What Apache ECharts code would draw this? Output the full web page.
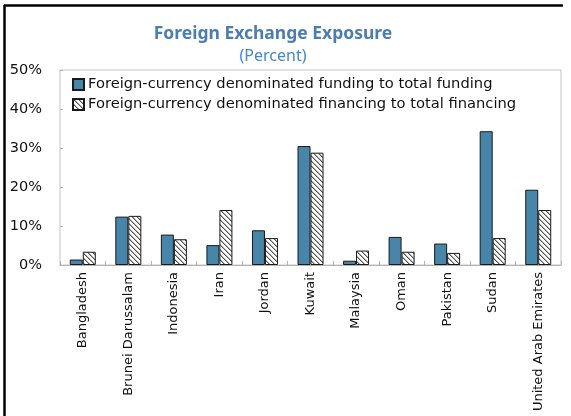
<!DOCTYPE html>
<html>
<head>
<meta charset="utf-8">
<script src="https://cdn.jsdelivr.net/npm/echarts@6/dist/echarts.min.js"></script>
<style>
html,body{margin:0;padding:0;background:#fff;}
#chart{width:571px;height:416px;}
</style>
</head>
<body>
<div id="chart"></div>
<script>
var categories = ['Bangladesh','Brunei Darussalam','Indonesia','Iran','Jordan','Kuwait','Malaysia','Oman','Pakistan','Sudan','United Arab Emirates'];
var fundingShare = [1.4, 12.4, 7.8, 5.1, 8.9, 30.5, 1.1, 7.2, 5.5, 34.3, 19.3];
var financingShare = [3.4, 12.6, 6.6, 14.1, 6.9, 28.8, 3.7, 3.4, 3.1, 6.9, 14.1];
var yTicks = [0, 10, 20, 30, 40, 50];

function hatch() {
  var c = document.createElement('canvas');
  c.width = 5; c.height = 5;
  var g = c.getContext('2d');
  g.fillStyle = '#fff';
  g.fillRect(0, 0, 5, 5);
  g.fillStyle = '#555';
  for (var i = 0; i < 5; i++) { g.fillRect(i, i, 1, 1); }
  g.fillStyle = '#b0b0b0';
  for (var j = 0; j < 4; j++) { g.fillRect(j + 1, j, 1, 1); }
  g.fillRect(0, 4, 1, 1);
  return c;
}

var chart = echarts.init(document.getElementById('chart'));
var font = 'DejaVu Sans';
chart.setOption({
  animation: false,
  title: {
    text: 'Foreign Exchange Exposure',
    subtext: '(Percent)',
    left: 268,
    textAlign: 'center',
    top: 20,
    itemGap: 5,
    textStyle: { fontFamily: 'Noto Sans', fontWeight: 'bold', fontSize: 17.5, color: '#4A7EB0' },
    subtextStyle: { fontFamily: 'Noto Sans', fontSize: 16, color: '#4A86C5' }
  },
  legend: {
    orient: 'vertical',
    left: 67,
    top: 72,
    itemWidth: 11,
    itemHeight: 11,
    itemGap: 5,
    icon: 'rect',
    textStyle: { fontFamily: font, fontSize: 14.7, color: '#111', padding: [0,0,0,-1] },
    data: [
      { name: 'Foreign-currency denominated funding to total funding' },
      { name: 'Foreign-currency denominated financing to total financing' }
    ]
  },
  grid: {
    left: 60, top: 70, right: 10, bottom: 151,
    show: true, borderColor: '#c4c4c4', borderWidth: 1, containLabel: false
  },
  xAxis: {
    type: 'category',
    data: categories,
    axisLine: { lineStyle: { color: '#b4b4b4', width: 1 } },
    axisTick: { show: true, inside: true, length: 4, lineStyle: { color: '#b4b4b4' } },
    axisLabel: { rotate: 90, fontFamily: font, fontSize: 13, color: '#111', margin: 7, interval: 0 }
  },
  yAxis: {
    type: 'value',
    min: yTicks[0],
    max: yTicks[yTicks.length - 1],
    interval: 10,
    axisLine: { show: false },
    axisTick: { show: true, inside: true, length: 3, lineStyle: { color: '#b4b4b4' } },
    splitLine: { show: false },
    axisLabel: { formatter: '{value}%', fontFamily: font, fontSize: 14.5, color: '#111', margin: 18 }
  },
  series: [
    {
      name: 'Foreign-currency denominated funding to total funding',
      type: 'bar',
      data: fundingShare,
      barWidth: 13,
      barGap: '0%',
      itemStyle: { color: '#4785A9', borderColor: '#1a1a1a', borderWidth: 1 }
    },
    {
      name: 'Foreign-currency denominated financing to total financing',
      type: 'bar',
      data: financingShare,
      barWidth: 13,
      barGap: '0%',
      itemStyle: { color: { image: hatch(), repeat: 'repeat' }, borderColor: '#1a1a1a', borderWidth: 1 }
    }
  ],
  graphic: [
    { type: 'line', shape: { x1: 4, y1: 5.5, x2: 563, y2: 5.5 }, style: { stroke: '#000', lineWidth: 2.5 } },
    { type: 'line', shape: { x1: 4.5, y1: 5, x2: 4.5, y2: 416 }, style: { stroke: '#000', lineWidth: 2.5 } }
  ]
});
</script>
</body>
</html>
